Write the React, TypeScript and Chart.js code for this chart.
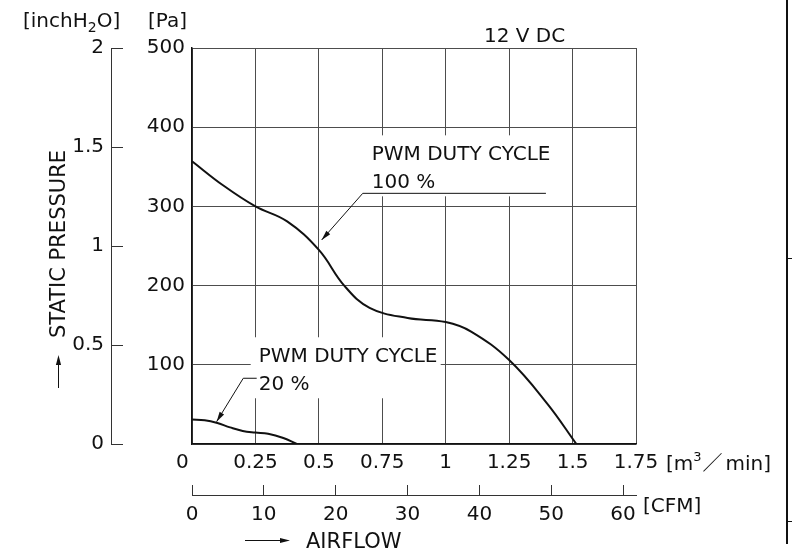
import React, { useEffect, useRef } from 'react';
import { Chart, registerables } from 'chart.js';

Chart.register(...registerables);

// ---- data ----
const flowTicks = [0, 0.25, 0.5, 0.75, 1, 1.25, 1.5, 1.75];
const flowTickLabels = ['0   ', '0.25', '0.5', '0.75', '1', '1.25', '1.5', '1.75'];
const paTicks = [0, 100, 200, 300, 400, 500];
const paTickLabels = ['', '100', '200', '300', '400', '500'];
const inchTicks = [0, 0.5, 1, 1.5, 2];
const inchTickLabels = ['0', '0.5', '1', '1.5', '2'];
const cfmTicks = [0, 10, 20, 30, 40, 50, 60];
const cfmTickLabels = ['0', '10', '20', '30', '40', '50', '60'];
const CFM_PER_M3MIN = 35.3147;

const flow100 = [0, 0.125, 0.25, 0.375, 0.5, 0.6, 0.7, 0.85, 1.0, 1.1, 1.25, 1.4, 1.515];
const pres100 = [357, 326, 300, 281, 245, 200, 172, 159, 154, 142, 106, 51, 0];

const flow20 = [0, 0.05, 0.1, 0.15, 0.2, 0.25, 0.3, 0.36, 0.413];
const pres20 = [31, 30, 26.5, 21, 16.5, 14.5, 13, 7.5, 0];

const leader100Flow = [1.395, 0.673, 0.511];
const leader100Pres = [316.5, 316.5, 257.6];
const leader20Flow = [0.255, 0.202, 0.097];
const leader20Pres = [83, 83, 28.2];

const FONT = '"DejaVu Sans", "Noto Sans CJK JP", sans-serif';
const INK = '#111';

const toXY = (xs: number[], ys: number[]) => xs.map((x, i) => ({ x, y: ys[i] }));
const pick = (ticks: number[], labels: string[]) => (v: any) => {
  const i = ticks.findIndex((t) => Math.abs(t - Number(v)) < 1e-6);
  return i >= 0 ? labels[i] : '';
};

function arrowHead(ctx: CanvasRenderingContext2D, fx: number, fy: number, tx: number, ty: number, L = 10, w = 2.6) {
  const dx = tx - fx, dy = ty - fy;
  const len = Math.hypot(dx, dy) || 1;
  const ux = dx / len, uy = dy / len;
  const bx = tx - ux * L, by = ty - uy * L;
  ctx.beginPath();
  ctx.moveTo(tx, ty);
  ctx.lineTo(bx - uy * w, by + ux * w);
  ctx.lineTo(bx + uy * w, by - ux * w);
  ctx.closePath();
  ctx.fill();
}

const decorPlugin = {
  id: 'decor',
  beforeDatasetsDraw(chart: any) {
    const ctx = chart.ctx as CanvasRenderingContext2D;
    const xs = chart.scales.x, ys = chart.scales.y;
    ctx.save();
    ctx.fillStyle = '#fff';
    const c100x = xs.getPixelForValue(leader100Flow[1]);
    const c100y = ys.getPixelForValue(leader100Pres[1]);
    ctx.fillRect(c100x + 2, c100y - 58, 184, 61);
    const c20x = xs.getPixelForValue(leader20Flow[0]);
    const c20y = ys.getPixelForValue(leader20Pres[0]);
    ctx.fillRect(c20x - 6, c20y - 41, 190, 61);
    ctx.restore();
  },
  afterDatasetsDraw(chart: any) {
    const ctx = chart.ctx as CanvasRenderingContext2D;
    const xs = chart.scales.x, ys = chart.scales.y;
    ctx.save();
    ctx.fillStyle = INK;
    for (const di of [2, 3]) {
      const pts = chart.getDatasetMeta(di).data;
      const a = pts[pts.length - 2], b = pts[pts.length - 1];
      arrowHead(ctx, a.x, a.y, b.x, b.y);
    }
    ctx.font = `20px ${FONT}`;
    ctx.textBaseline = 'alphabetic';
    ctx.textAlign = 'left';
    const c100x = xs.getPixelForValue(leader100Flow[1]);
    const c100y = ys.getPixelForValue(leader100Pres[1]);
    ctx.fillText('PWM DUTY CYCLE', c100x + 9, c100y - 33);
    ctx.fillText('100 %', c100x + 9, c100y - 5.5);
    const c20x = xs.getPixelForValue(leader20Flow[0]);
    const c20y = ys.getPixelForValue(leader20Pres[0]);
    ctx.fillText('PWM DUTY CYCLE', c20x + 2, c20y - 16);
    ctx.fillText('20 %', c20x + 2, c20y + 12);
    ctx.restore();
  },
  afterDraw(chart: any) {
    const ctx = chart.ctx as CanvasRenderingContext2D;
    ctx.save();
    ctx.fillStyle = INK;
    ctx.strokeStyle = INK;
    ctx.textBaseline = 'alphabetic';
    ctx.textAlign = 'left';
    // unit labels top-left
    let x = 23;
    ctx.font = `20px ${FONT}`;
    ctx.fillText('[inchH', x, 27);
    x += ctx.measureText('[inchH').width;
    ctx.font = `14px ${FONT}`;
    ctx.fillText('2', x, 32);
    x += ctx.measureText('2').width;
    ctx.font = `20px ${FONT}`;
    ctx.fillText('O]', x, 27);
    ctx.fillText('[Pa]', 148, 27);
    ctx.fillText('12 V DC', 484, 41.5);
    // m3/min unit
    x = 666;
    ctx.fillText('[m', x, 470);
    x += ctx.measureText('[m').width;
    ctx.font = `13px ${FONT}`;
    ctx.fillText('3', x, 461);
    x += ctx.measureText('3').width + 1;
    ctx.font = `20px ${FONT}`;
    ctx.fillText('／', x, 470);
    x += ctx.measureText('／').width + 3;
    ctx.fillText('min]', x, 470);
    // CFM unit
    ctx.fillText('[CFM]', 643, 512);
    // AIRFLOW
    ctx.font = `21px ${FONT}`;
    ctx.fillText('AIRFLOW', 306, 548);
    ctx.lineWidth = 1;
    ctx.beginPath();
    ctx.moveTo(245, 540.5);
    ctx.lineTo(282, 540.5);
    ctx.stroke();
    arrowHead(ctx, 245, 540.5, 290, 540.5, 10, 2.6);
    // STATIC PRESSURE rotated
    ctx.save();
    ctx.translate(65, 244);
    ctx.rotate(-Math.PI / 2);
    ctx.textAlign = 'center';
    ctx.fillText('STATIC PRESSURE', 0, 0);
    ctx.restore();
    ctx.beginPath();
    ctx.moveTo(58.5, 388);
    ctx.lineTo(58.5, 362);
    ctx.stroke();
    arrowHead(ctx, 58.5, 388, 58.5, 355, 10, 2.6);
    // right edge rule
    ctx.lineWidth = 2;
    ctx.beginPath();
    ctx.moveTo(787, 0);
    ctx.lineTo(787, 544);
    ctx.stroke();
    ctx.lineWidth = 1;
    ctx.beginPath();
    ctx.moveTo(787, 258.5);
    ctx.lineTo(792, 258.5);
    ctx.moveTo(787, 521.5);
    ctx.lineTo(792, 521.5);
    ctx.stroke();
    ctx.restore();
  },
};

export default function App() {
  const ref = useRef<HTMLCanvasElement | null>(null);
  useEffect(() => {
    if (!ref.current) return;
    Chart.defaults.font.family = FONT;
    const curve = (xs: number[], ys: number[]) => ({
      data: toXY(xs, ys),
      borderColor: INK,
      borderWidth: 2,
      pointRadius: 0,
      tension: 0.4,
      xAxisID: 'x',
      yAxisID: 'y',
    });
    const leader = (xs: number[], ys: number[]) => ({
      data: toXY(xs, ys),
      borderColor: INK,
      borderWidth: 1,
      pointRadius: 0,
      tension: 0,
      xAxisID: 'x',
      yAxisID: 'y',
    });
    const chart = new Chart(ref.current, {
      type: 'line',
      data: {
        datasets: [
          curve(flow100, pres100),
          curve(flow20, pres20),
          leader(leader100Flow, leader100Pres),
          leader(leader20Flow, leader20Pres),
        ],
      },
      options: {
        responsive: false,
        animation: false,
        events: [],
        layout: { padding: { top: 48, right: 158, bottom: 0, left: 0 } },
        plugins: { legend: { display: false }, tooltip: { enabled: false }, title: { display: false } },
        scales: {
          x: {
            type: 'linear',
            position: 'bottom',
            min: 0,
            max: 1.75,
            weight: 0,
            afterFit: (s: any) => { s.height = 51; },
            grid: { color: '#4d4d4d', lineWidth: 1, drawTicks: false },
            border: { display: true, color: INK, width: 1.5 },
            ticks: {
              stepSize: 0.25,
              padding: 7,
              color: INK,
              font: { size: 20, family: FONT },
              maxRotation: 0,
              autoSkip: false,
              callback: pick(flowTicks, flowTickLabels),
            },
          },
          x2: {
            type: 'linear',
            position: 'bottom',
            min: 0,
            max: 1.75 * CFM_PER_M3MIN,
            weight: 1,
            afterFit: (s: any) => { s.height = 57; },
            grid: { drawOnChartArea: false, drawTicks: true, tickLength: -10, color: '#333', lineWidth: 1 },
            border: { display: true, color: '#333', width: 1 },
            ticks: {
              stepSize: 10,
              includeBounds: false,
              padding: 18,
              color: INK,
              font: { size: 20, family: FONT },
              maxRotation: 0,
              autoSkip: false,
              callback: pick(cfmTicks, cfmTickLabels),
            },
          },
          y: {
            type: 'linear',
            position: 'left',
            min: 0,
            max: 500,
            weight: 0,
            afterFit: (s: any) => { s.width = 81; },
            grid: { color: '#4d4d4d', lineWidth: 1, drawTicks: false },
            border: { display: true, color: INK, width: 1.5 },
            ticks: {
              stepSize: 100,
              padding: 7,
              color: INK,
              font: { size: 20, family: FONT },
              callback: pick(paTicks, paTickLabels),
            },
          },
          y2: {
            type: 'linear',
            position: 'left',
            min: 0,
            max: 2,
            weight: 1,
            afterFit: (s: any) => { s.width = 111; },
            grid: { drawOnChartArea: false, drawTicks: true, tickLength: -12, color: '#333', lineWidth: 1 },
            border: { display: true, color: '#333', width: 1 },
            ticks: {
              stepSize: 0.5,
              padding: 19,
              color: INK,
              font: { size: 20, family: FONT },
              callback: pick(inchTicks, inchTickLabels),
            },
          },
        },
      },
      plugins: [decorPlugin],
    } as any);
    return () => chart.destroy();
  }, []);
  return (
    <div style={{ position: 'absolute', left: 0, top: 0, width: 794, height: 552, background: '#fff' }}>
      <canvas ref={ref} width={794} height={552} style={{ display: 'block' }} />
    </div>
  );
}
